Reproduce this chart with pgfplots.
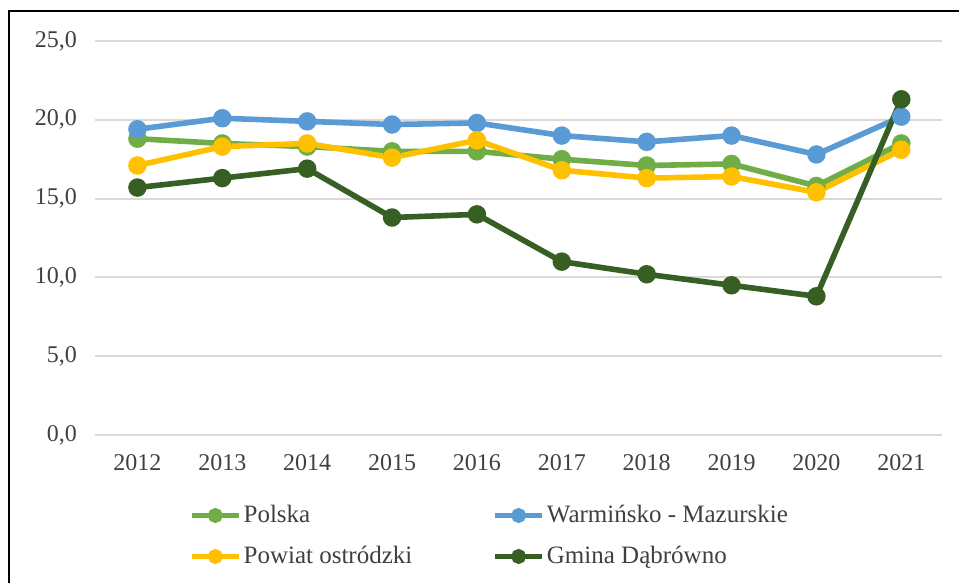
\documentclass[border=0pt]{standalone}
\usepackage{pgfplots}
\pgfplotsset{compat=1.18}
\usepackage{fontspec}
\setmainfont{Liberation Serif}
\definecolor{cPol}{RGB}{112,173,71}
\definecolor{cWM}{RGB}{91,155,213}
\definecolor{cPow}{RGB}{255,192,0}
\definecolor{cGm}{RGB}{56,95,35}
\definecolor{cGrid}{RGB}{217,217,217}
\definecolor{cTxt}{RGB}{64,64,64}
\begin{document}
\begin{tikzpicture}
\useasboundingbox (-47.5pt,-74pt) rectangle (432pt,217.5pt);
\draw[black, line width=0.8pt] (-43pt,-74pt) -- (-43pt,212pt) -- (432pt,212pt);
\begin{axis}[
  scale only axis,
  width=423.5pt, height=197pt,
  xmin=-0.5, xmax=9.48,
  ymin=0, ymax=25,
  xtick={0,1,2,3,4,5,6,7,8,9},
  xticklabels={2012,2013,2014,2015,2016,2017,2018,2019,2020,2021},
  ytick={0,5,10,15,20,25},
  yticklabel style={/pgf/number format/use comma, /pgf/number format/fixed, /pgf/number format/fixed zerofill, /pgf/number format/precision=1, /pgf/number format/assume math mode=true, xshift=-5.5pt},
  xticklabel style={yshift=-6pt},
  major tick length=0pt,
  axis line style={draw=none},
  ymajorgrids,
  grid style={cGrid, line width=1pt},
  tick label style={font=\fontsize{12}{14}\selectfont, text=cTxt},
  legend columns=2,
  legend cell align=left,
  legend style={draw=none, fill=none, inner sep=0pt, outer sep=0pt,
    at={(0.111,-0.1523)}, anchor=north west,
    font=\fontsize{12.5}{15}\selectfont, text=cTxt,
    nodes={inner sep=0pt, minimum height=20.5pt},
    row sep=0pt,
    /tikz/every even column/.append style={column sep=40pt},
    /tikz/every odd column/.append style={column sep=1pt}},
  legend image code/.code={
    \draw[mark repeat=2, mark phase=2, mark size=2.3pt] plot coordinates {(0pt,0pt) (11.75pt,0pt) (23.5pt,0pt)};
  },
  every axis plot/.append style={line width=2.8pt, mark=*, mark size=3.2pt},
]
\addplot[cPol, mark options={fill=cPol, draw=cPol}] coordinates {
(0,18.8) (1,18.5) (2,18.3) (3,18.0) (4,18.0) (5,17.5) (6,17.1) (7,17.2) (8,15.8) (9,18.5)};
\addlegendentry{Polska}
\addplot[cWM, mark options={fill=cWM, draw=cWM}] coordinates {
(0,19.4) (1,20.1) (2,19.9) (3,19.7) (4,19.8) (5,19.0) (6,18.6) (7,19.0) (8,17.8) (9,20.2)};
\addlegendentry{Warmińsko - Mazurskie}
\addplot[cPow, mark options={fill=cPow, draw=cPow}] coordinates {
(0,17.1) (1,18.3) (2,18.5) (3,17.6) (4,18.7) (5,16.8) (6,16.3) (7,16.4) (8,15.4) (9,18.1)};
\addlegendentry{Powiat ostródzki}
\addplot[cGm, mark options={fill=cGm, draw=cGm}] coordinates {
(0,15.7) (1,16.3) (2,16.9) (3,13.8) (4,14.0) (5,11.0) (6,10.2) (7,9.5) (8,8.8) (9,21.3)};
\addlegendentry{Gmina Dąbrówno}
\end{axis}
\end{tikzpicture}
\end{document}
